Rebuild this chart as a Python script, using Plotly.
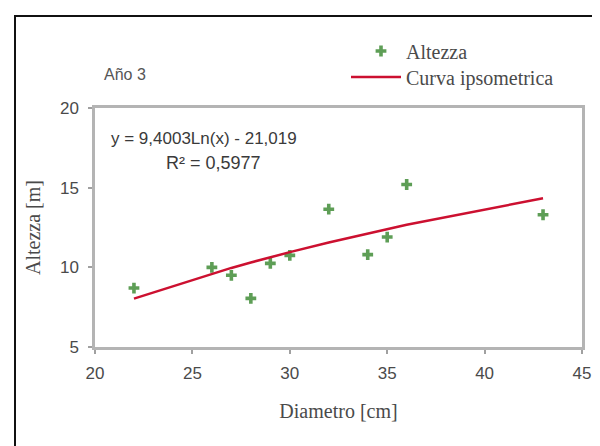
import numpy as np
import plotly.graph_objects as go

# Data
diametro = [22, 26, 27, 28, 29, 30, 32, 34, 35, 36, 43]
altezza = [8.7, 10.0, 9.5, 8.05, 10.25, 10.75, 13.65, 10.8, 11.9, 15.2, 13.3]
coef_a = 9.4003
coef_b = -21.019
r2_text = "R² = 0,5977"
eq_text = "y = 9,4003Ln(x) - 21,019"
title_text = "Año 3"

x_arr = np.array(diametro, dtype=float)
trend_y = coef_a * np.log(x_arr) + coef_b

SANS = "Liberation Sans, Arial, sans-serif"
SERIF = "Liberation Serif, Times New Roman, serif"
TXT = "#4a4a4a"

fig = go.Figure()
fig.add_trace(go.Scatter(
    x=diametro, y=altezza, mode="markers", name="Altezza",
    marker=dict(symbol="cross", size=9, color="#5e9e56"),
    legend="legend",
))
fig.add_trace(go.Scatter(
    x=diametro, y=trend_y, mode="lines", name="Curva ipsometrica",
    line=dict(color="#cc1030", width=2.5),
    legend="legend2",
))

axis_common = dict(
    showline=True, mirror=True, linecolor="#b4b4b4", linewidth=2.5,
    ticks="outside", ticklen=4, tickcolor="#a0a0a0", tickwidth=1.5,
    showgrid=False, zeroline=False,
    tickfont=dict(family=SANS, size=17, color=TXT),
)

leg_common = dict(
    xanchor="left", yanchor="middle",
    font=dict(family=SERIF, size=20, color=TXT),
    bgcolor="rgba(0,0,0,0)",
)

fig.update_layout(
    width=600, height=446,
    margin=dict(l=87, r=26, t=100, b=107),
    paper_bgcolor="white", plot_bgcolor="white",
    showlegend=True,
    legend=dict(x=(348 - 87) / 487, y=(339 - 43) / 239, itemwidth=40, **leg_common),
    legend2=dict(x=(338 - 87) / 487, y=(339 - 69) / 239, itemwidth=50, **leg_common),
    xaxis=dict(range=[20, 45], dtick=5, ticklabelstandoff=5,
               title=dict(text="Diametro [cm]", standoff=22,
                          font=dict(family=SERIF, size=20, color=TXT)),
               **axis_common),
    yaxis=dict(range=[5, 20], dtick=5, ticklabelstandoff=6,
               title=dict(text="Altezza [m]", standoff=14,
                          font=dict(family=SERIF, size=20, color=TXT)),
               **axis_common),
    annotations=[
        dict(text=title_text, xref="paper", yref="paper",
             x=(94 - 87) / 487, y=(339 - 67) / 239, xanchor="left", yanchor="middle",
             showarrow=False, font=dict(family=SANS, size=16, color="#555555")),
        dict(text=eq_text, xref="paper", yref="paper",
             x=(196 - 87) / 487, y=(339 - 130) / 239, xanchor="center", yanchor="middle",
             showarrow=False, font=dict(family=SANS, size=17, color="#3a3a3a")),
        dict(text=r2_text, xref="paper", yref="paper",
             x=(205 - 87) / 487, y=(339 - 155) / 239, xanchor="center", yanchor="middle",
             showarrow=False, font=dict(family=SANS, size=18, color="#3a3a3a")),
    ],
    shapes=[
        dict(type="rect", xref="paper", yref="paper",
             x0=(7 - 87) / 487, x1=(640 - 87) / 487,
             y0=(339 - 480) / 239, y1=(339 - 8) / 239,
             line=dict(color="#111111", width=2), fillcolor="rgba(0,0,0,0)",
             layer="below"),
    ],
)

fig.write_html("out.html")
